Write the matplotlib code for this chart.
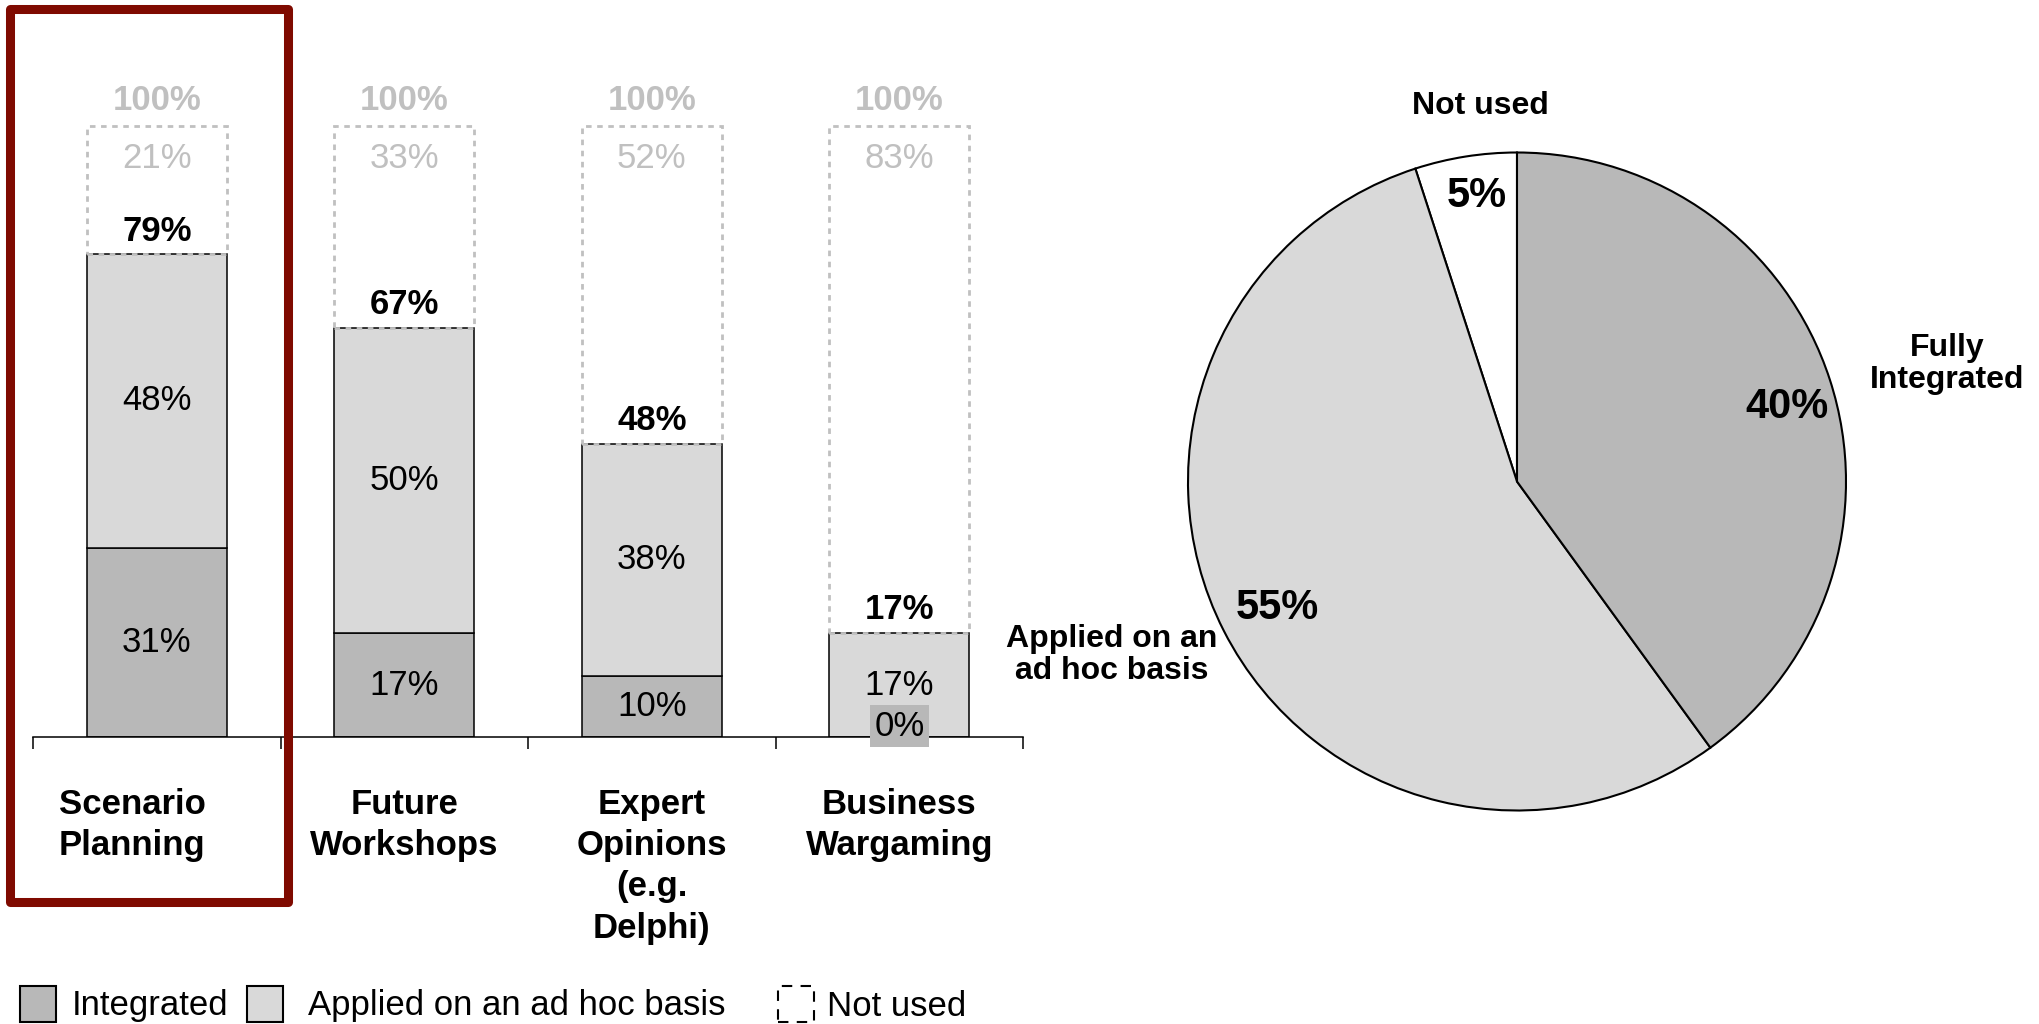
import numpy as np
import matplotlib
matplotlib.use("Agg")
import matplotlib.pyplot as plt
from matplotlib.patches import Rectangle

# ---- data -------------------------------------------------------------
categories = ["Scenario\nPlanning", "Future\nWorkshops",
              "Expert\nOpinions\n(e.g.\nDelphi)", "Business\nWargaming"]
integrated = [31, 17, 10, 0]
ad_hoc = [48, 50, 38, 17]
totals = [79, 67, 48, 17]
not_used = [21, 33, 52, 83]

pie_names = ["Not used", "Applied on an\nad hoc basis", "Fully\nIntegrated"]
pie_values = [5, 55, 40]

legend_labels = ["Integrated", "Applied on an ad hoc basis", "Not used"]

# ---- style ------------------------------------------------------------
C_INT = "#b8b8b8"
C_ADHOC = "#d9d9d9"
C_GRAY = "#c0c0c0"
C_RED = "#7f0a00"
plt.rcParams["font.family"] = ["Liberation Sans", "DejaVu Sans"]

W, H = 2039, 1024
fig = plt.figure(figsize=(W / 100, H / 100), dpi=100)


def fx(px):
    return px / W


def fy(py):
    return 1 - py / H


# ============================================================
# Left: stacked bars
# ============================================================
x0, x1 = 33, 1023          # axis line extent (px)
base, top100 = 737, 126    # y of 0% and 100% (px)
unit = base - top100
ymax = 1.1
ax = fig.add_axes([fx(x0), fy(base), (x1 - x0) / W, unit * ymax / H])

x = np.arange(len(categories))
integ = np.array(integrated) / 100
adhoc = np.array(ad_hoc) / 100
tot = np.array(totals) / 100
nused = np.array(not_used) / 100
bw = 0.566

ax.bar(x, integ, bw, color=C_INT, edgecolor="black", lw=1.1, zorder=2)
ax.bar(x, adhoc, bw, bottom=integ, color=C_ADHOC, edgecolor="black", lw=1.1, zorder=2)
ax.bar(x, nused, bw, bottom=tot, facecolor="none", edgecolor=C_GRAY,
       lw=2.0, ls=(0, (2, 2)), zorder=3)

FS = 25
dy = -0.006
for i in range(len(categories)):
    ax.text(i, 1.047 + dy, "100%", ha="center", va="center", fontsize=FS,
            fontweight="bold", color=C_GRAY)
    ax.text(i, 0.953 + dy, f"{not_used[i]}%", ha="center", va="center",
            fontsize=FS, color=C_GRAY)
    ax.text(i, tot[i] + 0.044 + dy, f"{totals[i]}%", ha="center", va="center",
            fontsize=FS, fontweight="bold", color="black")
    ax.text(i, integ[i] + adhoc[i] / 2, f"{ad_hoc[i]}%", ha="center",
            va="center", fontsize=FS)
    if integrated[i] > 0:
        ax.text(i, integ[i] / 2, f"{integrated[i]}%", ha="center",
                va="center", fontsize=FS)
    else:
        ax.text(i, 0.018, f"{integrated[i]}%", ha="center", va="center",
                fontsize=FS, zorder=5,
                bbox=dict(facecolor=C_INT, edgecolor="none", pad=3))

# category labels (Scenario one sits a bit left inside the red frame)
offsets = [-0.10, 0.0, 0.0, 0.0]
for i, cat in enumerate(categories):
    ax.text(i + offsets[i], -0.084, cat, ha="center", va="top",
            fontsize=FS, fontweight="bold", linespacing=1.31)

ax.set_xlim(-0.5, 3.5)
ax.set_ylim(0, ymax)
for s in ["top", "left", "right"]:
    ax.spines[s].set_visible(False)
ax.spines["bottom"].set_linewidth(1.1)
ax.set_xticks(np.arange(-0.5, len(categories), 1.0))
ax.tick_params(axis="x", direction="out", length=8.6, width=1.1,
               labelbottom=False)
ax.set_yticks([])

# red highlight frame
fig.add_artist(Rectangle((fx(9.5), fy(902)), fx(288 - 9.5), (902 - 8.5) / H,
                         transform=fig.transFigure, facecolor="none",
                         edgecolor=C_RED, lw=6.5, joinstyle="round",
                         zorder=10))

# ============================================================
# Right: pie
# ============================================================
cx, cy, r = 1517, 481.5, 329
L = 1.08
side = 2 * r * L
ax2 = fig.add_axes([fx(cx - side / 2), fy(cy + side / 2), side / W, side / H])
wedges, _, autotexts = ax2.pie(
    pie_values, colors=["white", C_ADHOC, C_INT], startangle=90,
    counterclock=True, autopct=lambda p: f"{p:.0f}%", pctdistance=0.85,
    wedgeprops=dict(edgecolor="black", linewidth=1.5),
    textprops=dict(fontsize=30, fontweight="bold"))
# small nudges of the percentage labels
nudges = [(0.01, 0.027), (0.028, 0.0), (0.012, -0.036)]
for t, (ddx, ddy) in zip(autotexts, nudges):
    px, py = t.get_position()
    t.set_position((px + ddx, py + ddy))
ax2.set_xlim(-L, L)
ax2.set_ylim(-L, L)
ax2.set_aspect("equal")

ax2.text(-0.112, 1.14, pie_names[0], ha="center", va="center",
         fontsize=23, fontweight="bold")
ax2.text(-1.231, -0.527, pie_names[1], ha="center", va="center",
         fontsize=23, fontweight="bold", linespacing=1.1)
ax2.text(1.307, 0.357, pie_names[2], ha="center", va="center",
         fontsize=23, fontweight="bold", linespacing=1.12)

# ============================================================
# Legend (bottom)
# ============================================================
ly = 1004
sq = 36
boxes = [(19.5, C_INT, "-"), (247, C_ADHOC, "-"), (778, "none", (0, (5, 4)))]
text_x = [71.5, 308, 827]
for (bx, fc, ls), tx, lab in zip(boxes, text_x, legend_labels):
    fig.add_artist(Rectangle((fx(bx), fy(ly + sq / 2)), sq / W, sq / H,
                             transform=fig.transFigure, facecolor=fc,
                             edgecolor="black", lw=1.5, ls=ls))
    fig.text(fx(tx), fy(ly + 2), lab, ha="left", va="center", fontsize=25)

fig.savefig("out.png", dpi=100)
